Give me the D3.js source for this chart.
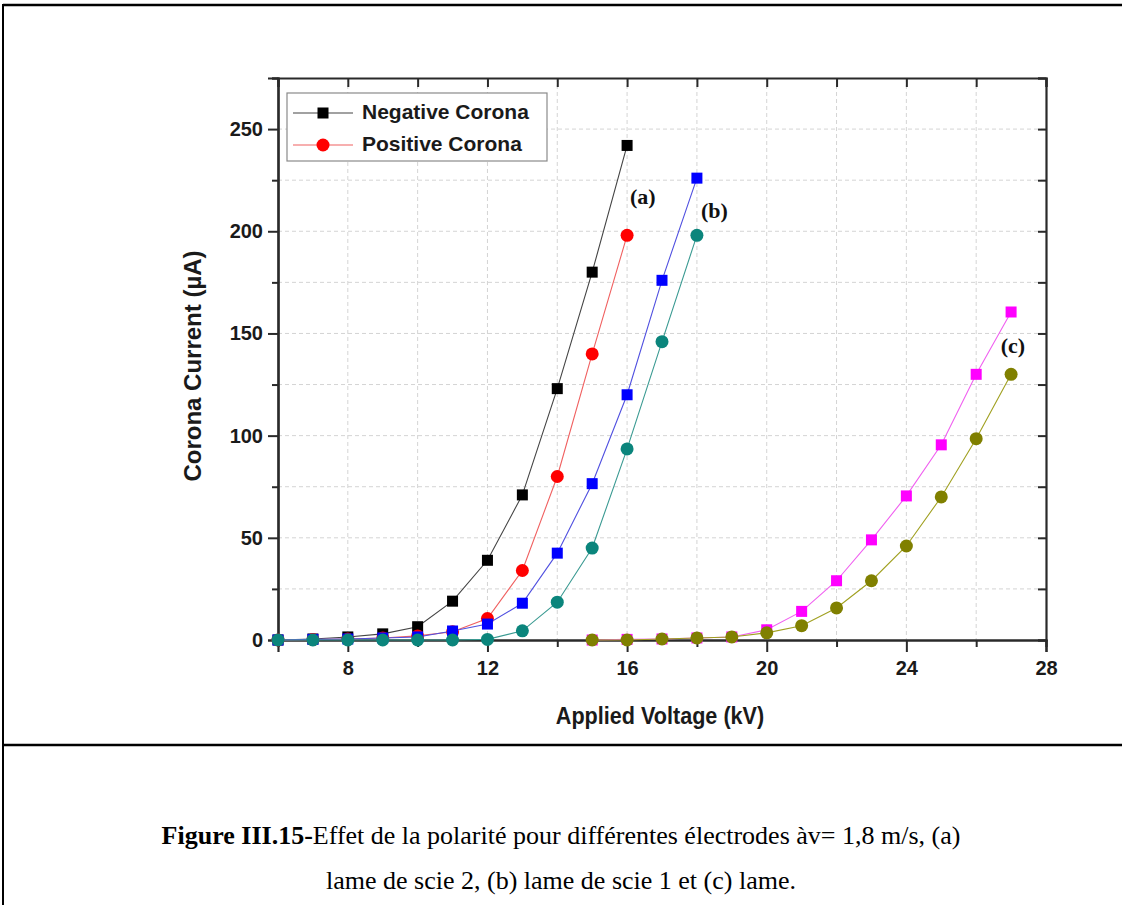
<!DOCTYPE html>
<html>
<head>
<meta charset="utf-8">
<script src="https://cdn.jsdelivr.net/npm/d3@7"></script>
<style>
  html, body { margin: 0; padding: 0; background: #fff; }
  svg { display: block; }
</style>
</head>
<body>
<svg id="chart" width="1122" height="905"></svg>
<script>
// ---- data ----
const voltageA = [6, 7, 8, 9, 10, 11, 12, 13, 14, 15, 16];
const negativeA = [0, 0.5, 1.5, 3, 6.5, 19, 39, 71, 123, 180, 242];
const positiveA = [0, 0.2, 0.5, 1, 2, 4, 10.5, 34, 80, 140, 198];

const voltageB = [6, 7, 8, 9, 10, 11, 12, 13, 14, 15, 16, 17, 18];
const negativeB = [0, 0.3, 0.5, 1, 1.5, 4.4, 7.8, 18, 42.5, 76.5, 120, 176, 226];
const positiveB = [0, 0, 0, 0, 0, 0, 0.3, 4.5, 18.5, 45, 93.5, 146, 198];

const voltageC = [15, 16, 17, 18, 19, 20, 21, 22, 23, 24, 25, 26, 27];
const negativeC = [0, 0.3, 0.5, 1, 1.5, 5, 14, 29, 49, 70.5, 95.5, 130, 160.5];
const positiveC = [0, 0, 0.5, 1, 1.5, 3.5, 7, 15.7, 29, 46, 70, 98.5, 130];

const xTicks = [8, 12, 16, 20, 24, 28];
const xMinorTicks = [6, 8, 10, 12, 14, 16, 18, 20, 22, 24, 26, 28];
const yTicks = [0, 50, 100, 150, 200, 250];
const yMinorTicks = [0, 25, 50, 75, 100, 125, 150, 175, 200, 225, 250, 275];

const legendLabels = ["Negative Corona", "Positive Corona"];
const curveLabels = ["(a)", "(b)", "(c)"];
const xTitle = "Applied Voltage (kV)";
const yTitle = "Corona Current (\u00B5A)";
const captionBold = "Figure III.15-";
const captionRest = "Effet de la polarit\u00E9 pour diff\u00E9rentes \u00E9lectrodes \u00E0v= 1,8 m/s, (a)";
const captionLine2 = "lame de scie 2, (b) lame de scie 1 et (c) lame.";

// ---- layout ----
const svg = d3.select("#chart");
const L = 278, R = 1046, T = 78, B = 640;
const x = d3.scaleLinear().domain([6, 28]).range([L, R]);
const y = d3.scaleLinear().domain([0, 275]).range([B, T]);

// outer frame of figure
svg.append("line").attr("x1", 3).attr("x2", 1122).attr("y1", 5).attr("y2", 5).attr("stroke", "#000").attr("stroke-width", 2.5);
svg.append("line").attr("x1", 3).attr("x2", 3).attr("y1", 4).attr("y2", 905).attr("stroke", "#000").attr("stroke-width", 2);
svg.append("line").attr("x1", 3).attr("x2", 1122).attr("y1", 745).attr("y2", 745).attr("stroke", "#000").attr("stroke-width", 2.5);

// grid
const grid = svg.append("g").attr("stroke", "#d4d4d4").attr("stroke-width", 1).attr("stroke-dasharray", "4,3");
grid.selectAll("line.v").data(xMinorTicks.filter(d => d > 6 && d < 28)).join("line")
  .attr("x1", d => x(d)).attr("x2", d => x(d)).attr("y1", T).attr("y2", B);
grid.selectAll("line.h").data(yMinorTicks.filter(d => d > 0 && d < 275)).join("line")
  .attr("x1", L).attr("x2", R).attr("y1", d => y(d)).attr("y2", d => y(d));

// axes
const axisColor = "#2a2a2a";
const fontAxis = "Arial, 'Liberation Sans', sans-serif";
const gx = svg.append("g").attr("transform", `translate(0,${B})`)
  .call(d3.axisBottom(x).tickValues(xTicks).tickSize(12).tickFormat(d3.format("d")));
const gxm = svg.append("g").attr("transform", `translate(0,${B})`)
  .call(d3.axisBottom(x).tickValues(xMinorTicks.filter(d => !xTicks.includes(d))).tickSize(7).tickFormat(""));
const gy = svg.append("g").attr("transform", `translate(${L},0)`)
  .call(d3.axisLeft(y).tickValues(yTicks).tickSize(10).tickFormat(d3.format("d")));
const gym = svg.append("g").attr("transform", `translate(${L},0)`)
  .call(d3.axisLeft(y).tickValues(yMinorTicks.filter(d => !yTicks.includes(d))).tickSize(6).tickFormat(""));
const gt = svg.append("g").attr("transform", `translate(0,${T})`)
  .call(d3.axisTop(x).tickValues(xMinorTicks).tickSize(-9).tickFormat(""));
const gr = svg.append("g").attr("transform", `translate(${R},0)`)
  .call(d3.axisRight(y).tickValues(yMinorTicks).tickSize(-8).tickFormat(""));
[gx, gxm, gy, gym, gt, gr].forEach(g => {
  g.select(".domain").attr("stroke", axisColor).attr("stroke-width", 2.2);
  g.selectAll(".tick line").attr("stroke", axisColor).attr("stroke-width", 2);
  g.selectAll(".tick text").attr("fill", "#1a1a1a").attr("font-family", fontAxis)
    .attr("font-weight", "bold").attr("font-size", 20);
});
gx.selectAll(".tick text").attr("dy", "1.0em");
gy.selectAll(".tick text").attr("x", -15);

// axis titles
svg.append("text").attr("x", 660).attr("y", 724).attr("text-anchor", "middle")
  .attr("font-family", fontAxis).attr("font-weight", "bold").attr("font-size", 24)
  .attr("fill", "#1a1a1a").attr("transform", "translate(660,0) scale(0.9,1) translate(-660,0)")
  .text(xTitle);
svg.append("text").attr("transform", "translate(201,366) rotate(-90)").attr("text-anchor", "middle")
  .attr("font-family", fontAxis).attr("font-weight", "bold").attr("font-size", 24)
  .attr("fill", "#1a1a1a").text(yTitle);

// series
const series = [
  { v: voltageA, c: negativeA, color: "#000000", line: "#444444", shape: "square" },
  { v: voltageA, c: positiveA, color: "#ff0000", line: "#f06060", shape: "circle" },
  { v: voltageB, c: negativeB, color: "#0000ff", line: "#5050e0", shape: "square" },
  { v: voltageB, c: positiveB, color: "#0b857c", line: "#3a9a92", shape: "circle" },
  { v: voltageC, c: negativeC, color: "#ff00ff", line: "#f060f0", shape: "square" },
  { v: voltageC, c: positiveC, color: "#808000", line: "#a0a020", shape: "circle" }
];
const lineGen = d3.line().x(d => x(d[0])).y(d => y(d[1]));
const plot = svg.append("g");
function drawMarker(g, shape, color, cx, cy) {
  if (shape === "square") {
    g.append("rect").attr("x", cx - 5.5).attr("y", cy - 5.5).attr("width", 11).attr("height", 11).attr("fill", color);
  } else {
    g.append("circle").attr("cx", cx).attr("cy", cy).attr("r", 6.5).attr("fill", color);
  }
}
series.forEach(s => {
  const pts = s.v.map((v, i) => [v, s.c[i]]);
  plot.append("path").datum(pts).attr("d", lineGen).attr("fill", "none")
    .attr("stroke", s.line).attr("stroke-width", 1.1);
  const mg = plot.append("g");
  pts.forEach(p => drawMarker(mg, s.shape, s.color, x(p[0]), y(p[1])));
});

// curve labels
const labelPos = [[16.45, 216], [18.5, 209], [27.05, 143]];
curveLabels.forEach((t, i) => {
  svg.append("text").attr("x", x(labelPos[i][0])).attr("y", y(labelPos[i][1]))
    .attr("text-anchor", "middle").attr("dominant-baseline", "middle")
    .attr("font-family", "'Times New Roman', 'Liberation Serif', serif").attr("font-weight", "bold")
    .attr("font-size", 22).attr("fill", "#111").text(t);
});

// legend
const lg = svg.append("g");
lg.append("rect").attr("x", 287).attr("y", 93).attr("width", 260).attr("height", 68)
  .attr("fill", "#fff").attr("stroke", "#8a8a8a").attr("stroke-width", 1.2);
legendLabels.forEach((t, i) => {
  const cy = 113 + i * 32;
  const s = series[i];
  lg.append("line").attr("x1", 293).attr("x2", 353).attr("y1", cy).attr("y2", cy)
    .attr("stroke", s.line).attr("stroke-width", 1.1);
  drawMarker(lg, s.shape, s.color, 323, cy);
  lg.append("text").attr("x", 362).attr("y", cy).attr("dominant-baseline", "middle")
    .attr("font-family", fontAxis).attr("font-weight", "bold").attr("font-size", 21)
    .attr("fill", "#1a1a1a").text(t);
});

// caption
const cap = svg.append("text").attr("x", 561).attr("y", 844).attr("text-anchor", "middle")
  .attr("font-family", "'Times New Roman', 'Liberation Serif', serif").attr("font-size", 26).attr("fill", "#000");
cap.append("tspan").attr("font-weight", "bold").text(captionBold);
cap.append("tspan").text(captionRest);
svg.append("text").attr("x", 561).attr("y", 889).attr("text-anchor", "middle")
  .attr("font-family", "'Times New Roman', 'Liberation Serif', serif").attr("font-size", 26).attr("fill", "#000")
  .text(captionLine2);
</script>
</body>
</html>
